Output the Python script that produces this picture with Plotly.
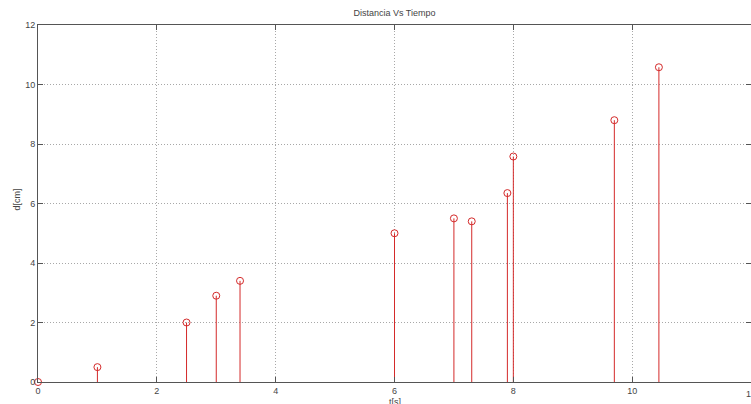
import plotly.graph_objects as go

t_values = [0, 1.0, 2.5, 3.0, 3.4, 6.0, 7.0, 7.3, 7.9, 8.0, 9.7, 10.45]
d_values = [0, 0.5, 2.0, 2.9, 3.4, 5.0, 5.5, 5.4, 6.35, 7.58, 8.8, 10.58]
x_ticks = [0, 2, 4, 6, 8, 10, 12]
y_ticks = [0, 2, 4, 6, 8, 10, 12]
title_text = "Distancia Vs Tiempo"
x_label = "t[s]"
y_label = "d[cm]"

RED = "#d42a2a"
AXIS = "#555555"
FONT = dict(family="Liberation Sans, Arial, Helvetica, sans-serif", size=9, color="#444444")

stem_x, stem_y = [], []
for t, d in zip(t_values, d_values):
    stem_x += [t, t, None]
    stem_y += [0, d, None]

fig = go.Figure()
fig.add_trace(go.Scatter(x=stem_x, y=stem_y, mode="lines",
                         line=dict(color=RED, width=1), hoverinfo="skip",
                         showlegend=False, cliponaxis=False))
fig.add_trace(go.Scatter(x=t_values, y=d_values, mode="markers",
                         marker=dict(symbol="circle-open", size=7, color=RED,
                                     line=dict(width=1, color=RED)),
                         showlegend=False, cliponaxis=False))

axis_common = dict(showgrid=True, gridcolor="#a8a8a8", griddash="1px,2px", gridwidth=1,
                   showline=True, linecolor=AXIS, linewidth=1, mirror="ticks",
                   ticks="inside", ticklen=5, tickcolor=AXIS, zeroline=False,
                   tickfont=FONT)

fig.update_xaxes(range=[0, 12], tickvals=x_ticks, ticktext=[str(v) for v in x_ticks],
                 **axis_common)
fig.update_yaxes(range=[0, 12], tickvals=y_ticks, ticktext=[str(v) for v in y_ticks],
                 **axis_common)

# last x tick label sits on the right edge and is clipped, as in the reference
last_tick = x_ticks[-1]
fig.add_annotation(text=str(last_tick), x=last_tick, xref="x", yref="paper", y=-0.015,
                   xanchor="center", yanchor="top", showarrow=False, font=FONT)

fig.update_layout(
    width=751, height=404,
    margin=dict(l=38, r=0, t=25, b=22, pad=0),
    plot_bgcolor="white", paper_bgcolor="white",
    font=FONT,
    title=dict(text=title_text, x=0.5, xref="paper", y=1 - 13 / 404,
               yanchor="middle", xanchor="center", font=FONT),
)
fig.add_annotation(text=x_label, xref="paper", yref="paper", x=0.5, y=-0.055,
                   xanchor="center", yanchor="middle", showarrow=False, font=FONT)
fig.add_annotation(text=y_label, xref="paper", yref="paper", x=-0.030, y=0.51,
                   xanchor="center", yanchor="middle", showarrow=False, textangle=-90,
                   font=FONT)

fig.write_html("out.html", config={"displayModeBar": False},
               post_script="document.body.style.margin='0px';document.body.style.overflow='hidden';")
